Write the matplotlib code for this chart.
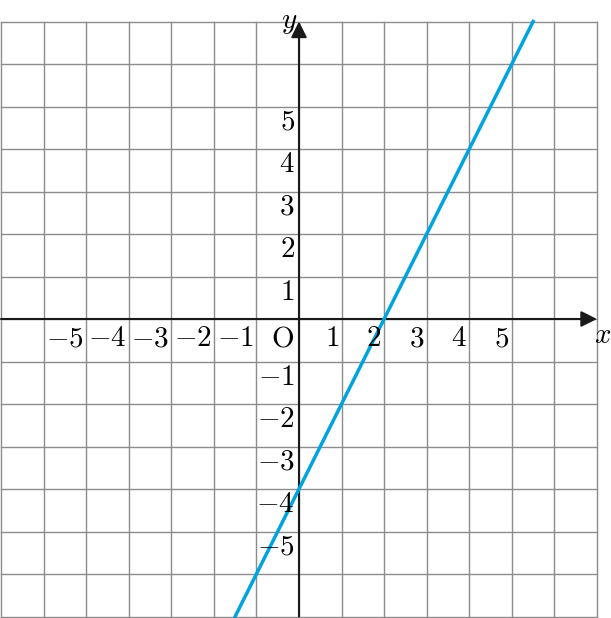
import matplotlib
matplotlib.use("Agg")
import matplotlib.pyplot as plt

plt.rcParams['mathtext.fontset'] = 'cm'
plt.rcParams['font.family'] = 'serif'
plt.rcParams['font.serif'] = ['DejaVu Serif']

# data
x_ticks = [-5, -4, -3, -2, -1, 1, 2, 3, 4, 5]
y_ticks = [-5, -4, -3, -2, -1, 1, 2, 3, 4, 5]
grid_vals = list(range(-7, 8))
line_x = [-1.5, 5.5]
line_y = [-7, 7]

fig = plt.figure(figsize=(6.11, 6.18), dpi=100)
ax = fig.add_axes([0, 0, 1, 1])
ux = 42.57
uy = 42.5
ax.set_xlim(-7 - 1 / ux, -7 + 610 / ux)
ax.set_ylim(-(618 - 319) / uy, 319 / uy)
ax.axis('off')

grid_color = '#8c8c8c'
for g in grid_vals:
    ax.plot([g, g], [-7, 7], color=grid_color, lw=1.0, zorder=1)
    ax.plot([-7, 7], [g, g], color=grid_color, lw=1.0, zorder=1)

# axes with arrows
ax.annotate('', xy=(7, 0), xytext=(-7, 0),
            arrowprops=dict(arrowstyle='-|>', color='#1a1a1a', lw=1.5,
                            mutation_scale=24, shrinkA=0, shrinkB=0), zorder=3)
ax.annotate('', xy=(0, 7), xytext=(0, -7),
            arrowprops=dict(arrowstyle='-|>', color='#1a1a1a', lw=1.5,
                            mutation_scale=24, shrinkA=0, shrinkB=0), zorder=3)

ax.plot(line_x, line_y, color='#00a3e0', lw=2.5, zorder=4)

fs = 21
for t in x_ticks:
    ax.text(t - 0.06, -0.12, r'$%d$' % t, ha='right', va='top', fontsize=fs, zorder=5)
for t in y_ticks:
    ax.text(-0.1, t - 0.03, r'$%d$' % t, ha='right', va='top', fontsize=fs, zorder=5)
ax.text(-0.12, -0.12, r'$\mathrm{O}$', ha='right', va='top', fontsize=fs, zorder=5)
ax.text(6.93, -0.05, r'$x$', ha='left', va='top', fontsize=fs)
ax.text(-0.05, 7.0, r'$y$', ha='right', va='center', fontsize=fs)

fig.savefig('out.png', dpi=100)
